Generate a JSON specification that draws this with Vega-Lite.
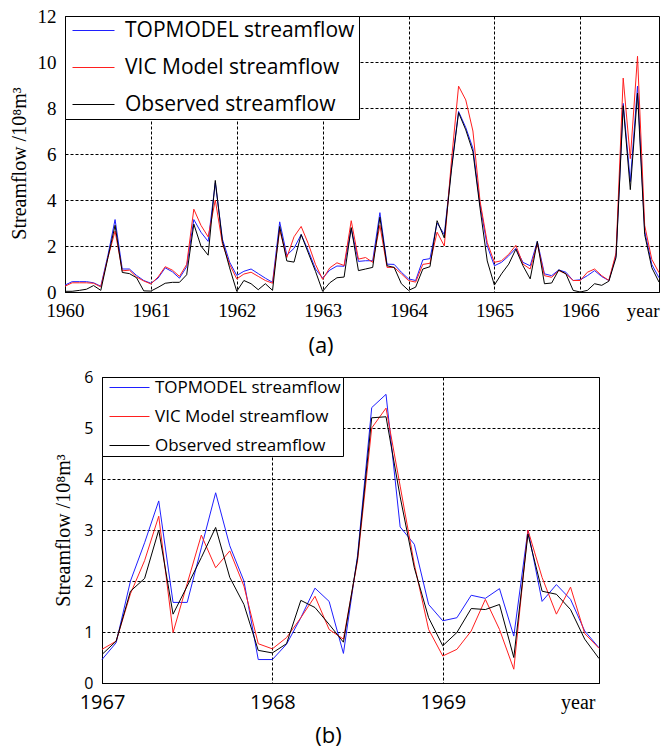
{
  "$schema": "https://vega.github.io/schema/vega-lite/v6.json",
  "padding": {"left": 8, "top": 6, "right": 2, "bottom": 2},
  "background": "white",
  "config": {
    "view": {"stroke": "#000", "strokeWidth": 1},
    "axis": {"domainColor": "#000", "ticks": false, "grid": true, "gridColor": "#000", "gridDash": [3, 2], "gridOpacity": 1, "gridWidth": 1, "labelColor": "#000", "titleColor": "#000", "titleFontWeight": "normal", "labelFlush": false, "labelOverlap": false},
    "line": {"strokeWidth": 1}
  },
  "resolve": {"legend": {"color": "independent"}},
  "datasets": {
    "a": [
      {"t": 1960, "TOPMODEL streamflow": 0.3, "VIC Model streamflow": 0.25, "Observed streamflow": 0.03},
      {"t": 1960.083, "TOPMODEL streamflow": 0.45, "VIC Model streamflow": 0.4, "Observed streamflow": 0.03},
      {"t": 1960.167, "TOPMODEL streamflow": 0.45, "VIC Model streamflow": 0.4, "Observed streamflow": 0.07},
      {"t": 1960.25, "TOPMODEL streamflow": 0.45, "VIC Model streamflow": 0.4, "Observed streamflow": 0.12},
      {"t": 1960.333, "TOPMODEL streamflow": 0.4, "VIC Model streamflow": 0.38, "Observed streamflow": 0.28},
      {"t": 1960.417, "TOPMODEL streamflow": 0.25, "VIC Model streamflow": 0.22, "Observed streamflow": 0.07},
      {"t": 1960.5, "TOPMODEL streamflow": 1.6, "VIC Model streamflow": 1.5, "Observed streamflow": 1.5},
      {"t": 1960.583, "TOPMODEL streamflow": 3.15, "VIC Model streamflow": 2.65, "Observed streamflow": 2.9},
      {"t": 1960.667, "TOPMODEL streamflow": 1.0, "VIC Model streamflow": 0.92, "Observed streamflow": 0.85},
      {"t": 1960.75, "TOPMODEL streamflow": 1.0, "VIC Model streamflow": 0.95, "Observed streamflow": 0.8},
      {"t": 1960.833, "TOPMODEL streamflow": 0.72, "VIC Model streamflow": 0.65, "Observed streamflow": 0.62},
      {"t": 1960.917, "TOPMODEL streamflow": 0.5, "VIC Model streamflow": 0.48, "Observed streamflow": 0.05},
      {"t": 1961, "TOPMODEL streamflow": 0.38, "VIC Model streamflow": 0.35, "Observed streamflow": 0.04},
      {"t": 1961.083, "TOPMODEL streamflow": 0.6, "VIC Model streamflow": 0.65, "Observed streamflow": 0.2},
      {"t": 1961.167, "TOPMODEL streamflow": 1.05, "VIC Model streamflow": 1.1, "Observed streamflow": 0.38},
      {"t": 1961.25, "TOPMODEL streamflow": 0.88, "VIC Model streamflow": 0.95, "Observed streamflow": 0.42},
      {"t": 1961.333, "TOPMODEL streamflow": 0.6, "VIC Model streamflow": 0.68, "Observed streamflow": 0.42},
      {"t": 1961.417, "TOPMODEL streamflow": 1.1, "VIC Model streamflow": 1.2, "Observed streamflow": 0.75},
      {"t": 1961.5, "TOPMODEL streamflow": 3.15, "VIC Model streamflow": 3.6, "Observed streamflow": 2.95},
      {"t": 1961.583, "TOPMODEL streamflow": 2.6, "VIC Model streamflow": 2.9, "Observed streamflow": 2.0},
      {"t": 1961.667, "TOPMODEL streamflow": 2.2, "VIC Model streamflow": 2.4, "Observed streamflow": 1.6},
      {"t": 1961.75, "TOPMODEL streamflow": 4.75, "VIC Model streamflow": 4.0, "Observed streamflow": 4.85},
      {"t": 1961.833, "TOPMODEL streamflow": 2.3, "VIC Model streamflow": 2.1, "Observed streamflow": 2.2},
      {"t": 1961.917, "TOPMODEL streamflow": 1.3, "VIC Model streamflow": 1.2, "Observed streamflow": 1.05},
      {"t": 1962, "TOPMODEL streamflow": 0.72, "VIC Model streamflow": 0.57, "Observed streamflow": 0.03},
      {"t": 1962.083, "TOPMODEL streamflow": 0.9, "VIC Model streamflow": 0.78, "Observed streamflow": 0.5},
      {"t": 1962.167, "TOPMODEL streamflow": 1.0, "VIC Model streamflow": 0.86, "Observed streamflow": 0.36},
      {"t": 1962.25, "TOPMODEL streamflow": 0.8, "VIC Model streamflow": 0.68, "Observed streamflow": 0.1},
      {"t": 1962.333, "TOPMODEL streamflow": 0.6, "VIC Model streamflow": 0.5, "Observed streamflow": 0.36},
      {"t": 1962.417, "TOPMODEL streamflow": 0.42, "VIC Model streamflow": 0.38, "Observed streamflow": 0.07},
      {"t": 1962.5, "TOPMODEL streamflow": 3.05, "VIC Model streamflow": 2.7, "Observed streamflow": 2.85},
      {"t": 1962.583, "TOPMODEL streamflow": 1.6, "VIC Model streamflow": 1.5, "Observed streamflow": 1.35},
      {"t": 1962.667, "TOPMODEL streamflow": 1.9, "VIC Model streamflow": 2.4, "Observed streamflow": 1.3},
      {"t": 1962.75, "TOPMODEL streamflow": 2.5, "VIC Model streamflow": 2.85, "Observed streamflow": 2.5},
      {"t": 1962.833, "TOPMODEL streamflow": 1.8, "VIC Model streamflow": 2.1, "Observed streamflow": 1.7},
      {"t": 1962.917, "TOPMODEL streamflow": 1.0, "VIC Model streamflow": 1.2, "Observed streamflow": 0.9},
      {"t": 1963, "TOPMODEL streamflow": 0.6, "VIC Model streamflow": 0.55, "Observed streamflow": 0.03},
      {"t": 1963.083, "TOPMODEL streamflow": 0.95, "VIC Model streamflow": 1.05, "Observed streamflow": 0.4},
      {"t": 1963.167, "TOPMODEL streamflow": 1.13, "VIC Model streamflow": 1.27, "Observed streamflow": 0.62},
      {"t": 1963.25, "TOPMODEL streamflow": 1.12, "VIC Model streamflow": 1.15, "Observed streamflow": 0.65},
      {"t": 1963.333, "TOPMODEL streamflow": 2.75, "VIC Model streamflow": 3.1, "Observed streamflow": 2.8},
      {"t": 1963.417, "TOPMODEL streamflow": 1.33, "VIC Model streamflow": 1.43, "Observed streamflow": 0.93},
      {"t": 1963.5, "TOPMODEL streamflow": 1.36, "VIC Model streamflow": 1.5, "Observed streamflow": 1.0},
      {"t": 1963.583, "TOPMODEL streamflow": 1.36, "VIC Model streamflow": 1.29, "Observed streamflow": 1.07},
      {"t": 1963.667, "TOPMODEL streamflow": 3.45, "VIC Model streamflow": 2.9, "Observed streamflow": 3.25},
      {"t": 1963.75, "TOPMODEL streamflow": 1.21, "VIC Model streamflow": 1.07, "Observed streamflow": 1.14},
      {"t": 1963.833, "TOPMODEL streamflow": 1.2, "VIC Model streamflow": 1.07, "Observed streamflow": 1.07},
      {"t": 1963.917, "TOPMODEL streamflow": 0.86, "VIC Model streamflow": 0.79, "Observed streamflow": 0.36},
      {"t": 1964, "TOPMODEL streamflow": 0.57, "VIC Model streamflow": 0.5, "Observed streamflow": 0.07},
      {"t": 1964.083, "TOPMODEL streamflow": 0.5, "VIC Model streamflow": 0.43, "Observed streamflow": 0.21},
      {"t": 1964.167, "TOPMODEL streamflow": 1.4, "VIC Model streamflow": 1.2, "Observed streamflow": 1.0},
      {"t": 1964.25, "TOPMODEL streamflow": 1.45, "VIC Model streamflow": 1.25, "Observed streamflow": 1.1},
      {"t": 1964.333, "TOPMODEL streamflow": 3.0, "VIC Model streamflow": 2.6, "Observed streamflow": 3.1},
      {"t": 1964.417, "TOPMODEL streamflow": 2.5, "VIC Model streamflow": 2.0, "Observed streamflow": 2.35},
      {"t": 1964.5, "TOPMODEL streamflow": 5.4, "VIC Model streamflow": 5.7, "Observed streamflow": 5.3},
      {"t": 1964.583, "TOPMODEL streamflow": 7.85, "VIC Model streamflow": 8.95, "Observed streamflow": 7.8},
      {"t": 1964.667, "TOPMODEL streamflow": 7.15, "VIC Model streamflow": 8.35, "Observed streamflow": 7.05},
      {"t": 1964.75, "TOPMODEL streamflow": 6.25, "VIC Model streamflow": 7.0, "Observed streamflow": 6.1},
      {"t": 1964.833, "TOPMODEL streamflow": 3.8, "VIC Model streamflow": 3.95, "Observed streamflow": 3.65},
      {"t": 1964.917, "TOPMODEL streamflow": 2.0, "VIC Model streamflow": 2.15, "Observed streamflow": 1.35},
      {"t": 1965, "TOPMODEL streamflow": 1.14, "VIC Model streamflow": 1.29, "Observed streamflow": 0.3},
      {"t": 1965.083, "TOPMODEL streamflow": 1.29, "VIC Model streamflow": 1.36, "Observed streamflow": 0.79},
      {"t": 1965.167, "TOPMODEL streamflow": 1.57, "VIC Model streamflow": 1.64, "Observed streamflow": 1.21},
      {"t": 1965.25, "TOPMODEL streamflow": 1.9, "VIC Model streamflow": 2.03, "Observed streamflow": 1.86},
      {"t": 1965.333, "TOPMODEL streamflow": 1.29, "VIC Model streamflow": 1.21, "Observed streamflow": 1.14},
      {"t": 1965.417, "TOPMODEL streamflow": 1.14, "VIC Model streamflow": 1.0, "Observed streamflow": 0.57},
      {"t": 1965.5, "TOPMODEL streamflow": 2.2, "VIC Model streamflow": 2.1, "Observed streamflow": 2.2},
      {"t": 1965.583, "TOPMODEL streamflow": 0.79, "VIC Model streamflow": 0.71, "Observed streamflow": 0.36},
      {"t": 1965.667, "TOPMODEL streamflow": 0.71, "VIC Model streamflow": 0.64, "Observed streamflow": 0.39},
      {"t": 1965.75, "TOPMODEL streamflow": 0.96, "VIC Model streamflow": 0.93, "Observed streamflow": 0.96},
      {"t": 1965.833, "TOPMODEL streamflow": 0.86, "VIC Model streamflow": 0.79, "Observed streamflow": 0.79},
      {"t": 1965.917, "TOPMODEL streamflow": 0.5, "VIC Model streamflow": 0.5, "Observed streamflow": 0.07},
      {"t": 1966, "TOPMODEL streamflow": 0.53, "VIC Model streamflow": 0.5, "Observed streamflow": 0.0},
      {"t": 1966.083, "TOPMODEL streamflow": 0.71, "VIC Model streamflow": 0.86, "Observed streamflow": 0.07},
      {"t": 1966.167, "TOPMODEL streamflow": 0.93, "VIC Model streamflow": 1.0, "Observed streamflow": 0.36},
      {"t": 1966.25, "TOPMODEL streamflow": 0.67, "VIC Model streamflow": 0.71, "Observed streamflow": 0.29},
      {"t": 1966.333, "TOPMODEL streamflow": 0.5, "VIC Model streamflow": 0.5, "Observed streamflow": 0.47},
      {"t": 1966.417, "TOPMODEL streamflow": 1.6, "VIC Model streamflow": 1.7, "Observed streamflow": 1.5},
      {"t": 1966.5, "TOPMODEL streamflow": 8.2, "VIC Model streamflow": 9.3, "Observed streamflow": 8.1},
      {"t": 1966.583, "TOPMODEL streamflow": 4.8, "VIC Model streamflow": 5.8, "Observed streamflow": 4.45},
      {"t": 1966.667, "TOPMODEL streamflow": 8.95, "VIC Model streamflow": 10.25, "Observed streamflow": 8.65},
      {"t": 1966.75, "TOPMODEL streamflow": 2.65, "VIC Model streamflow": 2.9, "Observed streamflow": 2.5},
      {"t": 1966.833, "TOPMODEL streamflow": 1.2, "VIC Model streamflow": 1.42, "Observed streamflow": 1.06},
      {"t": 1966.917, "TOPMODEL streamflow": 0.62, "VIC Model streamflow": 0.84, "Observed streamflow": 0.43}
    ],
    "b": [
      {"t": 1967, "TOPMODEL streamflow": 0.46, "VIC Model streamflow": 0.66, "Observed streamflow": 0.56},
      {"t": 1967.083, "TOPMODEL streamflow": 0.79, "VIC Model streamflow": 0.82, "Observed streamflow": 0.82},
      {"t": 1967.167, "TOPMODEL streamflow": 2.0, "VIC Model streamflow": 1.75, "Observed streamflow": 1.8},
      {"t": 1967.25, "TOPMODEL streamflow": 2.75, "VIC Model streamflow": 2.4, "Observed streamflow": 2.05},
      {"t": 1967.333, "TOPMODEL streamflow": 3.57, "VIC Model streamflow": 3.27, "Observed streamflow": 3.0},
      {"t": 1967.417, "TOPMODEL streamflow": 1.58, "VIC Model streamflow": 0.99, "Observed streamflow": 1.35},
      {"t": 1967.5, "TOPMODEL streamflow": 1.58, "VIC Model streamflow": 1.95, "Observed streamflow": 1.9},
      {"t": 1967.583, "TOPMODEL streamflow": 2.65, "VIC Model streamflow": 2.9, "Observed streamflow": 2.46},
      {"t": 1967.667, "TOPMODEL streamflow": 3.73, "VIC Model streamflow": 2.26, "Observed streamflow": 3.05},
      {"t": 1967.75, "TOPMODEL streamflow": 2.69, "VIC Model streamflow": 2.59, "Observed streamflow": 2.07},
      {"t": 1967.833, "TOPMODEL streamflow": 2.0, "VIC Model streamflow": 1.9, "Observed streamflow": 1.54},
      {"t": 1967.917, "TOPMODEL streamflow": 0.46, "VIC Model streamflow": 0.77, "Observed streamflow": 0.64},
      {"t": 1968, "TOPMODEL streamflow": 0.46, "VIC Model streamflow": 0.67, "Observed streamflow": 0.59},
      {"t": 1968.083, "TOPMODEL streamflow": 0.76, "VIC Model streamflow": 0.89, "Observed streamflow": 0.77},
      {"t": 1968.167, "TOPMODEL streamflow": 1.28, "VIC Model streamflow": 1.28, "Observed streamflow": 1.62},
      {"t": 1968.25, "TOPMODEL streamflow": 1.86, "VIC Model streamflow": 1.7, "Observed streamflow": 1.48},
      {"t": 1968.333, "TOPMODEL streamflow": 1.6, "VIC Model streamflow": 1.05, "Observed streamflow": 1.15},
      {"t": 1968.417, "TOPMODEL streamflow": 0.58, "VIC Model streamflow": 0.86, "Observed streamflow": 0.8},
      {"t": 1968.5, "TOPMODEL streamflow": 2.5, "VIC Model streamflow": 2.4, "Observed streamflow": 2.45},
      {"t": 1968.583, "TOPMODEL streamflow": 5.4, "VIC Model streamflow": 5.0, "Observed streamflow": 5.2},
      {"t": 1968.667, "TOPMODEL streamflow": 5.66, "VIC Model streamflow": 5.39, "Observed streamflow": 5.22},
      {"t": 1968.75, "TOPMODEL streamflow": 3.06, "VIC Model streamflow": 3.86, "Observed streamflow": 3.65},
      {"t": 1968.833, "TOPMODEL streamflow": 2.72, "VIC Model streamflow": 2.33, "Observed streamflow": 2.26},
      {"t": 1968.917, "TOPMODEL streamflow": 1.54, "VIC Model streamflow": 1.05, "Observed streamflow": 1.28},
      {"t": 1969, "TOPMODEL streamflow": 1.22, "VIC Model streamflow": 0.53, "Observed streamflow": 0.73},
      {"t": 1969.083, "TOPMODEL streamflow": 1.28, "VIC Model streamflow": 0.66, "Observed streamflow": 0.99},
      {"t": 1969.167, "TOPMODEL streamflow": 1.72, "VIC Model streamflow": 1.02, "Observed streamflow": 1.46},
      {"t": 1969.25, "TOPMODEL streamflow": 1.66, "VIC Model streamflow": 1.64, "Observed streamflow": 1.44},
      {"t": 1969.333, "TOPMODEL streamflow": 1.85, "VIC Model streamflow": 1.05, "Observed streamflow": 1.54},
      {"t": 1969.417, "TOPMODEL streamflow": 0.92, "VIC Model streamflow": 0.27, "Observed streamflow": 0.5},
      {"t": 1969.5, "TOPMODEL streamflow": 3.0, "VIC Model streamflow": 3.0, "Observed streamflow": 2.92},
      {"t": 1969.583, "TOPMODEL streamflow": 1.6, "VIC Model streamflow": 2.07, "Observed streamflow": 1.8},
      {"t": 1969.667, "TOPMODEL streamflow": 1.93, "VIC Model streamflow": 1.35, "Observed streamflow": 1.74},
      {"t": 1969.75, "TOPMODEL streamflow": 1.64, "VIC Model streamflow": 1.88, "Observed streamflow": 1.44},
      {"t": 1969.833, "TOPMODEL streamflow": 1.02, "VIC Model streamflow": 0.97, "Observed streamflow": 0.86},
      {"t": 1969.917, "TOPMODEL streamflow": 0.69, "VIC Model streamflow": 0.68, "Observed streamflow": 0.48}
    ]
  },
  "bounds": "flush",
  "spacing": 85,
  "vconcat": [
    {
      "width": 594,
      "height": 276,
      "data": {"name": "a"},
      "transform": [{"fold": ["TOPMODEL streamflow", "VIC Model streamflow", "Observed streamflow"], "as": ["s", "v"]}],
      "title": {"text": "(a)", "orient": "bottom", "frame": "group", "anchor": "middle", "dx": -41, "offset": 16, "font": "Open Sans", "fontSize": 22, "fontWeight": "normal", "color": "#000"},
      "mark": {"type": "line", "strokeWidth": 1},
      "encoding": {
        "x": {"field": "t", "type": "quantitative", "scale": {"domain": [1960, 1966.917], "nice": false, "zero": false},
          "axis": {"values": [1960, 1961, 1962, 1963, 1964, 1965, 1966], "format": "d", "labelFont": "Liberation Serif", "labelFontSize": 19, "labelPadding": 9, "title": "year", "titleFont": "Liberation Serif", "titleFontSize": 19, "titleX": 594, "titleY": 24, "titleAlign": "right", "titleBaseline": "alphabetic"}},
        "y": {"field": "v", "type": "quantitative", "scale": {"domain": [0, 12], "nice": false},
          "axis": {"values": [0, 2, 4, 6, 8, 10, 12], "labelFont": "Liberation Serif", "labelFontSize": 19, "labelPadding": 9, "title": "Streamflow /10⁸m³", "titleFont": "Liberation Serif", "titleFontSize": 20, "titlePadding": 8, "titleY": 147}},
        "color": {"field": "s", "type": "nominal",
          "scale": {"domain": ["TOPMODEL streamflow", "VIC Model streamflow", "Observed streamflow"], "range": ["#1f1fff", "#ff1f1f", "#000000"]},
          "legend": {"orient": "top-left", "offset": 0, "title": null, "symbolType": "M-0.7,0H3.5", "symbolSize": 400, "symbolStrokeWidth": 1.6, "symbolFillColor": "transparent", "labelFont": "Open Sans", "labelFontSize": 21, "labelColor": "#000", "labelOffset": 35, "labelLimit": 400, "padding": 4, "rowPadding": 15, "strokeColor": "#000", "fillColor": "#fff", "cornerRadius": 0}}
      }
    },
    {
      "bounds": "flush",
      "spacing": 0,
      "resolve": {"legend": {"color": "independent"}},
      "hconcat": [
        {
          "width": 37,
          "height": 10,
          "view": {"stroke": null},
          "data": {"values": [{"k": 1}]},
          "mark": {"type": "point", "opacity": 0},
          "encoding": {}
        },
        {
          "width": 497,
          "height": 306,
          "data": {"name": "b"},
          "transform": [{"fold": ["TOPMODEL streamflow", "VIC Model streamflow", "Observed streamflow"], "as": ["s", "v"]}],
          "title": {"text": "(b)", "orient": "bottom", "frame": "group", "anchor": "middle", "dx": -22, "offset": 14, "font": "Open Sans", "fontSize": 22, "fontWeight": "normal", "color": "#000"},
          "mark": {"type": "line", "strokeWidth": 1},
          "encoding": {
            "x": {"field": "t", "type": "quantitative", "scale": {"domain": [1967, 1969.917], "nice": false, "zero": false},
              "axis": {"values": [1967, 1968, 1969], "format": "d", "labelFont": "Open Sans", "labelFontSize": 20, "labelPadding": 9, "title": "year", "titleFont": "Liberation Serif", "titleFontSize": 20, "titleX": 493, "titleY": 25, "titleAlign": "right", "titleBaseline": "alphabetic"}},
            "y": {"field": "v", "type": "quantitative", "scale": {"domain": [0, 6], "nice": false},
              "axis": {"values": [0, 1, 2, 3, 4, 5, 6], "labelFont": "Open Sans", "labelFontSize": 16, "labelPadding": 9, "title": "Streamflow /10⁸m³", "titleFont": "Liberation Serif", "titleFontSize": 20, "titlePadding": 10}},
            "color": {"field": "s", "type": "nominal",
              "scale": {"domain": ["TOPMODEL streamflow", "VIC Model streamflow", "Observed streamflow"], "range": ["#1f1fff", "#ff1f1f", "#000000"]},
              "legend": {"orient": "top-left", "offset": 0, "title": null, "symbolType": "M-0.375,0H4.625", "symbolSize": 256, "symbolStrokeWidth": 1.6, "symbolFillColor": "transparent", "labelFont": "Open Sans", "labelFontSize": 17, "labelColor": "#000", "labelOffset": 34, "labelLimit": 400, "padding": 2, "rowPadding": 11, "strokeColor": "#000", "fillColor": "#fff", "cornerRadius": 0}}
          }
        }
      ]
    }
  ]
}
